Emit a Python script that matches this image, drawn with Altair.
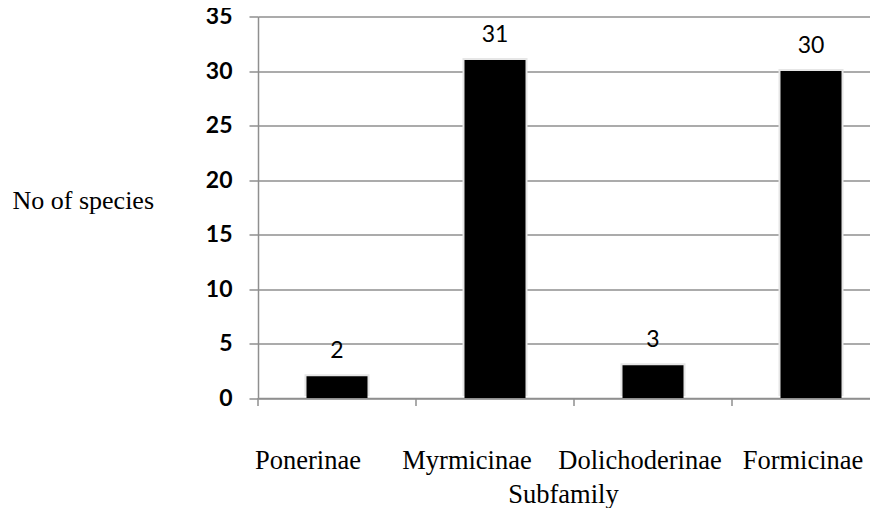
import altair as alt
import pandas as pd

subfamilies = ["Ponerinae", "Myrmicinae", "Dolichoderinae", "Formicinae"]
species = [2, 31, 3, 30]
y_ticks = [0, 5, 10, 15, 20, 25, 30, 35]

df = pd.DataFrame({"Subfamily": subfamilies, "Species": species})

W = 612
H = 381.5
GRAY = "#8f8f8f"
SERIF = "Liberation Serif"
SANS = "Lato"

xscale = alt.Scale(domain=subfamilies, range=[0, 632], paddingInner=0, paddingOuter=0)
yscale = alt.Scale(domain=[0, 35], nice=False)

x_axis = alt.Axis(
    title="Subfamily",
    ticks=False,
    tickSize=0,
    labelAngle=0,
    labelFont=SERIF,
    labelFontSize=26.5,
    labelColor="black",
    labelBaseline="alphabetic",
    labelPadding=70,
    labelLimit=400,
    labelOverlap=False,
    labelOffset={
        "condition": [
            {"test": "datum.value == 'Ponerinae'", "value": -29},
            {"test": "datum.value == 'Myrmicinae'", "value": -28},
            {"test": "datum.value == 'Dolichoderinae'", "value": -13},
        ],
        "value": -8,
    },
    domainColor=GRAY,
    domainWidth=1.5,
    grid=False,
    titleFont=SERIF,
    titleFontSize=26.5,
    titleFontWeight="normal",
    titleColor="black",
    titleX=305,
    titleY=104,
    titleAlign="center",
    titleBaseline="alphabetic",
)

y_axis = alt.Axis(
    title="No of species",
    values=y_ticks,
    titleAngle=0,
    titleAlign="left",
    titleBaseline="alphabetic",
    titleX=-246,
    titleY=191.5,
    titleFont=SERIF,
    titleFontSize=26,
    titleFontWeight="normal",
    titleColor="black",
    labelFont=SANS,
    labelFontSize=23,
    labelFontWeight="bold",
    labelColor="black",
    labelPadding=17,
    tickSize=9,
    tickColor=GRAY,
    tickWidth=1.5,
    domainColor=GRAY,
    domainWidth=1.5,
    gridColor=GRAY,
    gridWidth=1.5,
)

base = alt.Chart(df)

shadow = base.mark_bar(size=65, color="#e6e6e6", yOffset=-2).encode(
    x=alt.X("Subfamily:N", scale=xscale, axis=x_axis),
    y=alt.Y("Species:Q", scale=yscale, axis=y_axis),
)

bars = base.mark_bar(size=61, color="black").encode(
    x=alt.X("Subfamily:N", scale=xscale),
    y=alt.Y("Species:Q", scale=yscale),
)

labels = base.mark_text(dy=-18, baseline="alphabetic", font=SANS, fontSize=23, color="black").encode(
    x=alt.X("Subfamily:N", scale=xscale),
    y=alt.Y("Species:Q", scale=yscale),
    text="Species:Q",
)

xticks = base.mark_rule(color=GRAY, strokeWidth=1.5).encode(
    x=alt.X("Subfamily:N", scale=xscale, bandPosition=0),
    y=alt.value(H),
    y2=alt.value(H + 8),
)

chart = alt.layer(shadow, bars, labels, xticks).properties(
    width=W,
    height=H,
    autosize=alt.AutoSizeParams(type="none"),
    padding={"left": 250, "top": 8.5, "right": 0, "bottom": 110},
    background="white",
).configure_view(stroke=None)

chart.save("out.html", embed_options={"renderer": "svg", "actions": False})
